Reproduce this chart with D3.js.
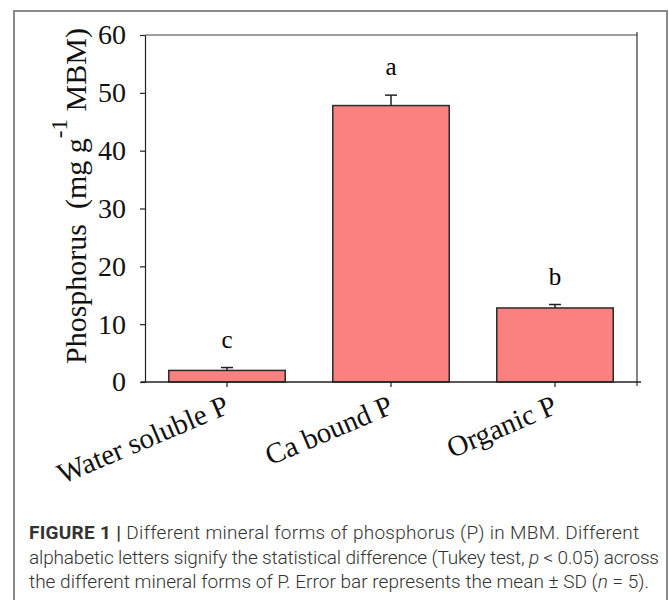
<!DOCTYPE html>
<html>
<head>
<meta charset="utf-8">
<script src="https://cdn.jsdelivr.net/npm/d3@7"></script>
<style>
  body { margin: 0; background: #fff; }
  svg { display: block; }
</style>
</head>
<body>
<div id="chart"></div>
<script>
// data
const categories = ["Water soluble P", "Ca bound P", "Organic P"];
const means = [2.0, 47.8, 12.8];
const sds = [0.5, 1.8, 0.6];
const letters = ["c", "a", "b"];
const yTicks = [0, 10, 20, 30, 40, 50, 60];

const width = 669;
const height = 600;
const plot = { left: 145, right: 637, top: 35, bottom: 382 };

const svg = d3.select("#chart")
  .append("svg")
  .attr("width", width)
  .attr("height", height);

// outer figure frame
svg.append("rect")
  .attr("x", 14)
  .attr("y", 11)
  .attr("width", 653)
  .attr("height", 620)
  .attr("fill", "none")
  .attr("stroke", "#8a8a8a")
  .attr("stroke-width", 2);

const x = d3.scaleBand()
  .domain(categories)
  .range([plot.left, plot.right])
  .paddingInner(0.29)
  .paddingOuter(0.145);

const y = d3.scaleLinear()
  .domain([0, 60])
  .range([plot.bottom, plot.top]);

const serif = "'Liberation Serif', 'Times New Roman', serif";

// top and right frame of the plot
svg.append("line")
  .attr("x1", plot.left).attr("x2", plot.right)
  .attr("y1", y(60)).attr("y2", y(60))
  .attr("stroke", "#a0a0a0").attr("stroke-width", 2);
svg.append("line")
  .attr("x1", plot.right).attr("x2", plot.right)
  .attr("y1", y(60) - 3).attr("y2", plot.bottom + 4)
  .attr("stroke", "#333").attr("stroke-width", 1.2);

// bars
const data = categories.map((c, i) => ({ cat: c, mean: means[i], sd: sds[i], letter: letters[i] }));

svg.selectAll(".bar")
  .data(data)
  .enter().append("rect")
  .attr("class", "bar")
  .attr("x", d => x(d.cat))
  .attr("y", d => y(d.mean))
  .attr("width", x.bandwidth())
  .attr("height", d => y(0) - y(d.mean))
  .attr("fill", "#f98281")
  .attr("stroke", "#2a2a2a")
  .attr("stroke-width", 1.5);

// error bars (upper half only)
const err = svg.selectAll(".err")
  .data(data)
  .enter().append("g")
  .attr("class", "err")
  .attr("stroke", "#222")
  .attr("stroke-width", 1.5);

err.append("line")
  .attr("x1", d => x(d.cat) + x.bandwidth() / 2)
  .attr("x2", d => x(d.cat) + x.bandwidth() / 2)
  .attr("y1", d => y(d.mean))
  .attr("y2", d => y(d.mean + d.sd));

err.append("line")
  .attr("x1", d => x(d.cat) + x.bandwidth() / 2 - 6)
  .attr("x2", d => x(d.cat) + x.bandwidth() / 2 + 6)
  .attr("y1", d => y(d.mean + d.sd))
  .attr("y2", d => y(d.mean + d.sd));

// significance letters
svg.selectAll(".letter")
  .data(data)
  .enter().append("text")
  .attr("class", "letter")
  .attr("x", d => x(d.cat) + x.bandwidth() / 2)
  .attr("y", d => y(d.mean + d.sd) - 20)
  .attr("text-anchor", "middle")
  .style("font-family", serif)
  .style("font-size", "25px")
  .text(d => d.letter);

// y axis
const yAxis = svg.append("g")
  .attr("transform", `translate(${plot.left},0)`)
  .call(d3.axisLeft(y).tickValues(yTicks).tickSize(5).tickPadding(14).tickSizeOuter(0));
yAxis.select(".domain").attr("stroke", "#222").attr("stroke-width", 1.2);
yAxis.selectAll(".tick line").attr("stroke", "#222").attr("stroke-width", 1.2);
yAxis.selectAll(".tick text")
  .style("font-family", serif)
  .style("font-size", "28px")
  .attr("fill", "#111");

// x axis
const xAxis = svg.append("g")
  .attr("transform", `translate(0,${plot.bottom})`)
  .call(d3.axisBottom(x).tickSize(5).tickSizeOuter(0));
xAxis.select(".domain")
  .attr("d", `M${plot.left - 4},0H${plot.right + 4}`)
  .attr("stroke", "#222").attr("stroke-width", 1.5);
xAxis.selectAll(".tick line").attr("stroke", "#222").attr("stroke-width", 1.2);
xAxis.selectAll(".tick text")
  .style("font-family", serif)
  .style("font-size", "29px")
  .attr("fill", "#111")
  .attr("text-anchor", "end")
  .attr("y", 0)
  .attr("dy", "0.7em")
  .attr("transform", "translate(-4,12) rotate(-23)");

// y axis title
const yTitle = svg.append("text")
  .attr("transform", "translate(86,364) rotate(-90)")
  .attr("text-anchor", "start")
  .style("font-family", serif)
  .style("font-size", "30px")
  .attr("fill", "#111");
yTitle.append("tspan").text("Phosphorus\u00a0 (mg g");
yTitle.append("tspan").attr("dy", -19).style("font-size", "23px").text("-1");
yTitle.append("tspan").attr("dy", 19).text(" MBM)");

// caption, one text per line, each stretched to the width it has in the figure
const capFont = "Roboto, 'Liberation Sans', sans-serif";
function captionLine(yPos, widthPx) {
  return svg.append("text")
    .attr("x", 29)
    .attr("y", yPos)
    .attr("textLength", widthPx)
    .attr("lengthAdjust", "spacing")
    .style("font-family", capFont)
    .style("font-size", "19px")
    .style("font-weight", 300)
    .attr("fill", "#333");
}

const line1 = captionLine(539, 610);
line1.append("tspan").style("font-weight", 700).text("FIGURE 1 | ");
line1.append("tspan").text("Different mineral forms of phosphorus (P) in MBM. Different");

const line2 = captionLine(563.5, 630);
line2.append("tspan").text("alphabetic letters signify the statistical difference (Tukey test, ");
line2.append("tspan").style("font-style", "italic").text("p");
line2.append("tspan").text(" < 0.05) across");

const line3 = captionLine(588, 620);
line3.append("tspan").text("the different mineral forms of P. Error bar represents the mean \u00b1 SD (");
line3.append("tspan").style("font-style", "italic").text("n");
line3.append("tspan").text(" = 5).");
</script>
</body>
</html>
